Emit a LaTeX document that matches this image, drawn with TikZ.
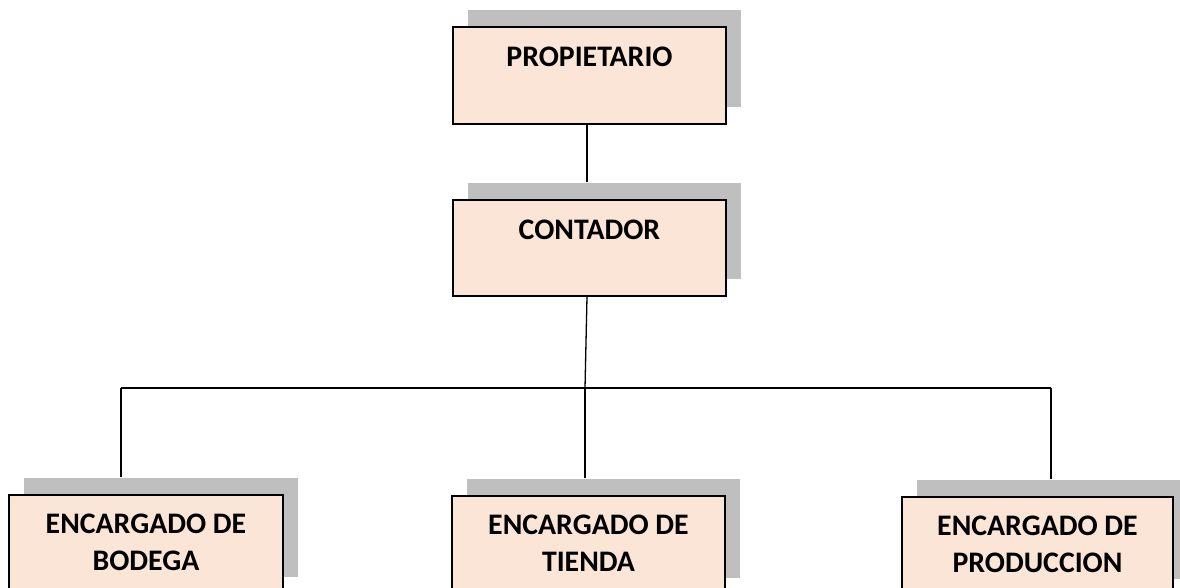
\documentclass[tikz,border=0pt]{standalone}
\usepackage{fontspec}
\setmainfont{Carlito}
\usetikzlibrary{shadows}
\definecolor{boxfill}{HTML}{FBE5D6}
\definecolor{shadowgray}{HTML}{BFBFBF}
\tikzset{
  orgbox/.style={draw=black, line width=1.6pt, fill=boxfill, rectangle,
    minimum height=#1, inner sep=0pt, anchor=north,
    drop shadow={shadow xshift=15pt, shadow yshift=17pt, fill=shadowgray, opacity=1}},
  boxtext/.style={font=\bfseries\fontsize{29.8}{37}\selectfont, align=center, inner sep=0pt, anchor=north},
  link/.style={draw=black, line width=1.3pt}
}
\begin{document}
\begin{tikzpicture}[x=1pt,y=-1pt]
\clip (0,0) rectangle (1180,588);
\fill[white] (0,0) rectangle (1180,588);
% boxes
\node[orgbox=97pt, minimum width=273pt] (prop) at (589.5,26) {};
\node[orgbox=96pt, minimum width=273pt] (cont) at (589.5,199) {};
\node[orgbox=99pt, minimum width=274pt] (bod) at (146,494) {};
\node[orgbox=99pt, minimum width=273pt] (tie) at (588.5,495) {};
\node[orgbox=99pt, minimum width=271pt] (pro) at (1037.5,496) {};
% texts
\node[boxtext] (propT) at ([yshift=-21pt]prop.north) {PROPIETARIO};
\node[boxtext] (contT) at ([yshift=-21pt]cont.north) {CONTADOR};
\node[boxtext] (bodT) at ([yshift=-20pt]bod.north) {ENCARGADO DE\\BODEGA};
\node[boxtext] (tieT) at ([yshift=-20pt]tie.north) {ENCARGADO DE\\TIENDA};
\node[boxtext] (proT) at ([yshift=-20pt]pro.north) {ENCARGADO DE\\PRODUCCION};
% connector helper points
\coordinate (contS) at ([yshift=17pt]cont.north);
\coordinate (bodS) at ([yshift=17pt]bod.north);
\coordinate (tieS) at ([yshift=17pt]tie.north);
\coordinate (proS) at ([yshift=17pt]pro.north);
\coordinate (jl) at (121,388);
\coordinate (jr) at (1051,388);
\coordinate (jm) at (585,388);
% connectors
\draw[link] ([xshift=-2.5pt]prop.south) -- ([xshift=-2.5pt]contS);
\draw[link] ([xshift=-2.5pt]cont.south) -- (jm);
\draw[link] (jl) -- (jr);
\draw[link] (jl) -- (jl |- bodS);
\draw[link] (jm) -- (jm |- tieS);
\draw[link] (jr) -- (jr |- proS);
\end{tikzpicture}
\end{document}
